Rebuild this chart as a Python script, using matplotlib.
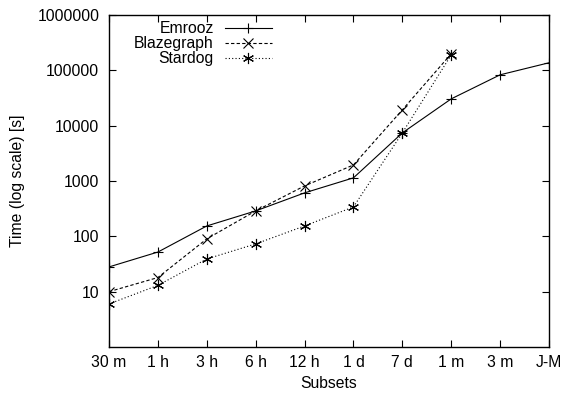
import matplotlib
matplotlib.use("Agg")
import matplotlib.pyplot as plt

plt.rcParams['font.family'] = ['Liberation Sans', 'DejaVu Sans']

# subsets and query times (seconds)
subsets = ['30 m', '1 h', '3 h', '6 h', '12 h', '1 d', '7 d', '1 m', '3 m', 'J-M']
emrooz = [28, 52, 154, 288, 610, 1140, 7400, 30500, 83000, 137000]
blazegraph = [10, 18, 90, 288, 815, 1950, 19300, 199000]
stardog = [6, 13, 39, 73, 154, 340, 7400, 190000]

fig = plt.figure(figsize=(5.65, 3.94), dpi=100)
# axes box in pixels: left 109, right 549, top 15, bottom 347
ax = fig.add_axes([109 / 565, (394 - 347) / 394, 440 / 565, 332 / 394])

x = list(range(len(subsets)))
ax.plot(x, emrooz, color='black', linestyle='-', linewidth=0.8,
        marker='+', markersize=7, markeredgewidth=0.8, label='Emrooz')
ax.plot(x[:len(blazegraph)], blazegraph, color='black', linestyle=(0, (3, 2)), linewidth=0.8,
        marker='x', markersize=7, markeredgewidth=0.8, label='Blazegraph')
ax.plot(x[:len(stardog)], stardog, color='black', linestyle=(0, (1, 2)), linewidth=0.8,
        marker=(6, 2, 0), markersize=8, markeredgewidth=0.8, label='Stardog')

ax.set_yscale('log')
ax.set_ylim(1, 1000000)
ax.set_xlim(0, len(subsets) - 1)
ax.set_xticks(x)
ax.set_xticklabels(subsets)
ax.set_yticks([10, 100, 1000, 10000, 100000, 1000000])
ax.set_yticklabels(['10', '100', '1000', '10000', '100000', '1000000'])
ax.yaxis.set_minor_locator(matplotlib.ticker.NullLocator())
ax.tick_params(direction='in', length=5, width=0.8, top=True, right=True,
               labelsize=11.3, colors='black')
ax.tick_params(axis='y', pad=7)
ax.tick_params(axis='x', pad=6)
for s in ax.spines.values():
    s.set_linewidth(1.0)

ax.set_xlabel('Subsets', fontsize=11.3, labelpad=4)
ax.set_ylabel('Time (log scale) [s]', fontsize=11.3, labelpad=9)

ax.legend(loc='upper right', bbox_to_anchor=(272 / 565, (394 - 21) / 394),
          bbox_transform=fig.transFigure, frameon=False, markerfirst=False,
          fontsize=11.3, handlelength=3.0, labelspacing=0.0, handletextpad=0.7,
          borderpad=0, borderaxespad=0)

fig.savefig('out.png', dpi=100)
